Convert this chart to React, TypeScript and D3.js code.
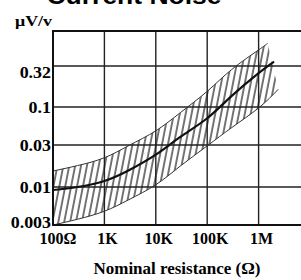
import React from "react";
import * as d3 from "d3";

// resistance (ohm) and noise (uV/V)
const xTicks = [100, 1e3, 1e4, 1e5, 1e6];
const xTickLabels = ["100Ω", "1K", "10K", "100K", "1M"];
const yTicks = [0.003, 0.01, 0.03, 0.1, 0.32, 1];
const yTickLabels = ["0.003", "0.01", "0.03", "0.1", "0.32", ""];

const centerR = [100, 300, 1e3, 3e3, 1e4, 3e4, 1e5, 3e5, 1e6, 2e6];
const centerV = [0.0091, 0.01, 0.0117, 0.0155, 0.0233, 0.0387, 0.07, 0.137, 0.262, 0.37];

const upperR = [100, 300, 1e3, 3e3, 1e4, 3e4, 1e5, 3e5, 1e6, 1.5e6];
const upperV = [0.0152, 0.0175, 0.0215, 0.0296, 0.047, 0.0836, 0.156, 0.29, 0.54, 0.67];

const lowerR = [100, 300, 1e3, 3e3, 1e4, 3e4, 1e5, 3e5, 1e6, 2.4e6];
const lowerV = [0.003, 0.0036, 0.00464, 0.0067, 0.0106, 0.0173, 0.0293, 0.0521, 0.097, 0.165];

const W = 301,
  H = 280;
const left = 53,
  top = 31,
  bottom = 225;

const x = d3.scaleLog().domain([100, 1e7]).range([left, left + 5 * 51.4]);
// gridlines in the picture are not quite a true log spacing
const y = d3
  .scaleLog()
  .domain(yTicks)
  .range([bottom, 187, 145, 107, 66, top]);

const line = d3
  .line<[number, number]>()
  .x((d) => x(d[0]))
  .y((d) => y(d[1]))
  .curve(d3.curveNatural);

const zip = (r: number[], v: number[]) => r.map((d, i) => [d, v[i]] as [number, number]);

export default function App() {
  const upper = zip(upperR, upperV);
  const lower = zip(lowerR, lowerV).reverse();
  const band =
    (line(upper) as string) + (line(lower) as string).replace(/^M/, "L") + "Z";

  const serif = "'Liberation Serif', 'Times New Roman', serif";
  const grid = "#222";

  return (
    <svg
      width={W}
      height={H}
      style={{ position: "absolute", left: 0, top: 0, background: "#fff" }}
    >
      <defs>
        <pattern
          id="hatch"
          width={5.8}
          height={10}
          patternUnits="userSpaceOnUse"
          patternTransform="rotate(11)"
        >
          <line x1={1} y1={0} x2={1} y2={10} stroke="#1a1a1a" strokeWidth={1.2} />
        </pattern>
      </defs>

      <text
        x={134}
        y={4}
        textAnchor="middle"
        fontFamily="'Liberation Sans', Arial, sans-serif"
        fontWeight="bold"
        fontSize={24}
        textLength={175}
        lengthAdjust="spacingAndGlyphs"
      >
        Current Noise
      </text>

      <text x={15} y={26} fontFamily={serif} fontWeight="bold" fontSize={15} textLength={37} lengthAdjust="spacingAndGlyphs">
        μV/v
      </text>

      {/* grid */}
      {xTicks.slice(1).map((t) => (
        <line key={"gx" + t} x1={x(t)} x2={x(t)} y1={top} y2={bottom} stroke={grid} strokeWidth={1.4} />
      ))}
      {yTicks.slice(1, -1).map((t) => (
        <line key={"gy" + t} x1={left} x2={W} y1={y(t)} y2={y(t)} stroke={grid} strokeWidth={1.4} />
      ))}

      {/* band */}
      <path d={band} fill="url(#hatch)" stroke="none" />
      <path d={line(zip(upperR, upperV)) as string} fill="none" stroke="#333" strokeWidth={1} />
      <path d={line(zip(lowerR, lowerV)) as string} fill="none" stroke="#333" strokeWidth={1} />
      <path d={line(zip(centerR, centerV)) as string} fill="none" stroke="#111" strokeWidth={2.2} />

      {/* frame */}
      <line x1={left} x2={W} y1={top} y2={top} stroke="#111" strokeWidth={2} />
      <line x1={left} x2={W} y1={bottom} y2={bottom} stroke="#111" strokeWidth={2} />
      <line x1={left} x2={left} y1={top - 1} y2={bottom + 1} stroke="#111" strokeWidth={2} />

      {/* y tick labels */}
      {yTicks.map((t, i) => (
        <text
          key={"ty" + t}
          transform={`translate(51,${y(t) + (t === 0.32 ? 6 : t === 0.003 ? -3 : 0)}) scale(1.12,1)`}
          dy="0.35em"
          textAnchor="end"
          fontFamily={serif}
          fontWeight="bold"
          fontSize={16}
        >
          {yTickLabels[i]}
        </text>
      ))}

      {/* x tick labels */}
      {xTicks.map((t, i) => (
        <text
          key={"tx" + t}
          x={x(t) + (i === 0 ? 5 : 3)}
          y={244}
          textAnchor="middle"
          fontFamily={serif}
          fontWeight="bold"
          fontSize={16}
        >
          {xTickLabels[i]}
        </text>
      ))}

      <text
        x={177}
        y={274}
        textAnchor="middle"
        fontFamily={serif}
        fontWeight="bold"
        fontSize={17}
        textLength={167}
        lengthAdjust="spacingAndGlyphs"
      >
        Nominal resistance (Ω)
      </text>
    </svg>
  );
}
